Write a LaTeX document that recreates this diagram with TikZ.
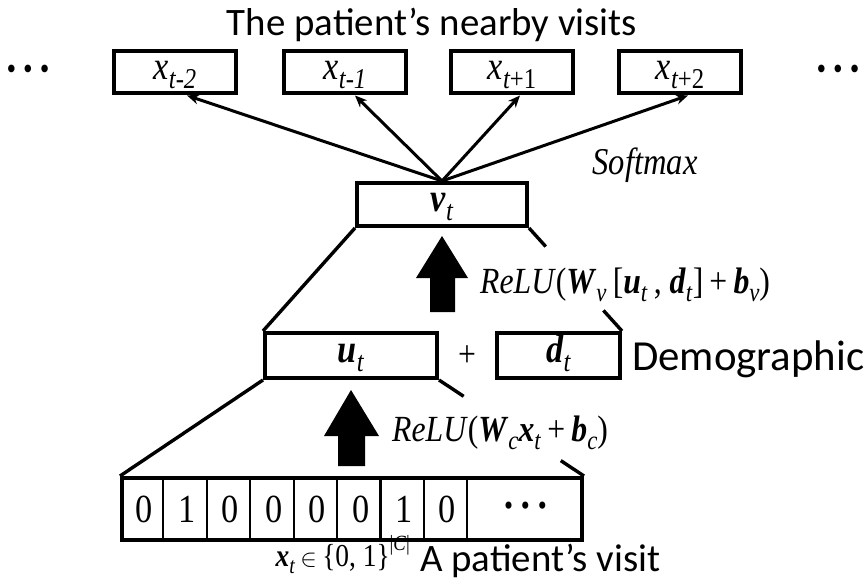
\documentclass[tikz,border=0pt]{standalone}
\usepackage{fontspec}
\setmainfont{Liberation Serif}[FakeStretch=0.86]
\newfontfamily\calib{Carlito}
\usetikzlibrary{arrows.meta,calc}

% bold italic symbol, subscript and superscript for hand-set formulas
\newcommand{\bi}[1]{\textbf{\textit{#1}}}
\newcommand{\sbs}[1]{\raisebox{-0.22em}{\scalebox{0.72}{#1}}}
\newcommand{\sps}[1]{\raisebox{0.5em}{\scalebox{0.68}{#1}}}

\tikzset{
  box/.style={draw, line width=4bp, line join=miter, inner sep=0pt,
              text height=14bp, text depth=0pt},
  visit/.style={box, minimum width=122bp, minimum height=42bp,
                font=\fontsize{40}{46}\selectfont},
  conn/.style={line width=3bp, -{Stealth[length=12bp,width=10bp]}},
  edge/.style={line width=3.4bp},
  lab/.style={inner sep=0pt, font=\fontsize{37}{42}\selectfont},
  txt/.style={inner sep=0pt, font=\calib\fontsize{39}{46}\selectfont},
  dots/.style={inner sep=0pt, font=\fontsize{32}{38}\selectfont},
}

\begin{document}
\begin{tikzpicture}[x=1bp, y=-1bp]
\useasboundingbox (0,0) rectangle (868,582);

% heading
\node[txt, anchor=base] (title) at (432,36) {The patient’s nearby visits};

% neighbouring visits
\node[dots] (dl) at (28,72) {\textbullet\hspace{7bp}\textbullet\hspace{7bp}\textbullet};
\node[visit] (b1) at (175,72.5) {\itshape x\sbs{t-2}};
\node[visit] (b2) at (345,72.5) {\itshape x\sbs{t-1}};
\node[visit] (b3) at (512,72.5) {\itshape x\sbs{\textit{t}\upshape+1}};
\node[visit] (b4) at (680,72.5) {\itshape x\sbs{\textit{t}\upshape+2}};
\node[dots] (dr) at (838,72) {\textbullet\hspace{7bp}\textbullet\hspace{7bp}\textbullet};

% visit representation
\node[box, minimum width=170bp, minimum height=43bp, font=\fontsize{40}{46}\selectfont]
  (v) at (442,204.5) {\bi{v}\sbs{\textit{t}}};

% softmax predictions
\draw[conn] (v.north) -- ([xshift=12bp]b1.south);
\draw[conn] (v.north) -- ([xshift=10bp]b2.south);
\draw[conn] (v.north) -- ([xshift=8bp]b3.south);
\draw[conn] (v.north) -- ([xshift=8bp]b4.south);
\node[lab, font=\fontsize{38}{44}\selectfont\itshape] (soft) at (645,165) {Softmax};

% code representation and demographics
\node[box, minimum width=172bp, minimum height=45bp, font=\fontsize{40}{46}\selectfont]
  (u) at (351,355.5) {\bi{u}\sbs{\textit{t}}};
\node[lab] (plus) at (467,356) {+};
\node[box, minimum width=123bp, minimum height=45bp, font=\fontsize{40}{46}\selectfont]
  (d) at (558.5,355.5) {\bi{d}\sbs{\textit{t}}};
\node[txt, anchor=base west, font=\calib\fontsize{43}{50}\selectfont] (demo) at (632,370) {Demographic};

% upper layer
\draw[edge] (v.south west) -- (u.north west);
\draw[edge] (v.south east) -- ($(v.south east)!0.18!(d.north east)$);
\draw[edge] ($(v.south east)!0.80!(d.north east)$) -- (d.north east);
\fill (442,236) -- (468,278) -- (455,278) -- (455,312) -- (430,312)
  -- (430,278) -- (416,278) -- cycle;
\node[lab, anchor=west] (relu1) at (480,285)
  {\textit{ReLU}(\bi{W}\sbs{\textit{v}}\,[\bi{u}\sbs{\textit{t}}\,, \bi{d}\sbs{\textit{t}}]\,+\,\bi{b}\sbs{\textit{v}})};

% multi-hot visit vector
\node[draw, line width=4bp, line join=miter, inner sep=0pt,
      minimum width=460bp, minimum height=62bp] (row) at (352,509) {};
\foreach \i in {1,...,8}
  \draw[line width=2.2bp] ($(row.north west)+({43.4*\i},0)$) -- ($(row.south west)+({43.4*\i},0)$);
\foreach \dg [count=\i] in {0,1,0,0,0,0,1,0}
  \node[lab, font=\fontsize{40}{46}\selectfont] (c\i) at ({122+43.4*(\i-0.5)},509) {\dg};
\node[dots, font=\fontsize{30}{36}\selectfont] (cdots) at (525.5,509)
  {\textbullet\hspace{8bp}\textbullet\hspace{8bp}\textbullet};

% lower layer
\draw[edge] (u.south west) -- (row.north west);
\draw[edge] (u.south east) -- ($(u.south east)!0.17!(row.north east)$);
\draw[edge] ($(u.south east)!0.84!(row.north east)$) -- (row.north east);
\fill (351,390) -- (379,436) -- (365,436) -- (365,466) -- (338,466)
  -- (338,436) -- (324,436) -- cycle;
\node[lab, anchor=west] (relu2) at (392,433)
  {\textit{ReLU}(\bi{W}\sbs{\textit{c}}\bi{x}\sbs{\textit{t}}\,+\,\bi{b}\sbs{\textit{c}})};

% input description
\node[lab, anchor=base east, font=\fontsize{32}{38}\selectfont] (xin) at (410,566)
  {\bi{x}\sbs{\textit{t}}\,$\in$\,\{0, 1\}\sps{|\textit{C}|}};
\node[txt, anchor=base west] (desc) at (420,571) {A patient’s visit};
\end{tikzpicture}
\end{document}
